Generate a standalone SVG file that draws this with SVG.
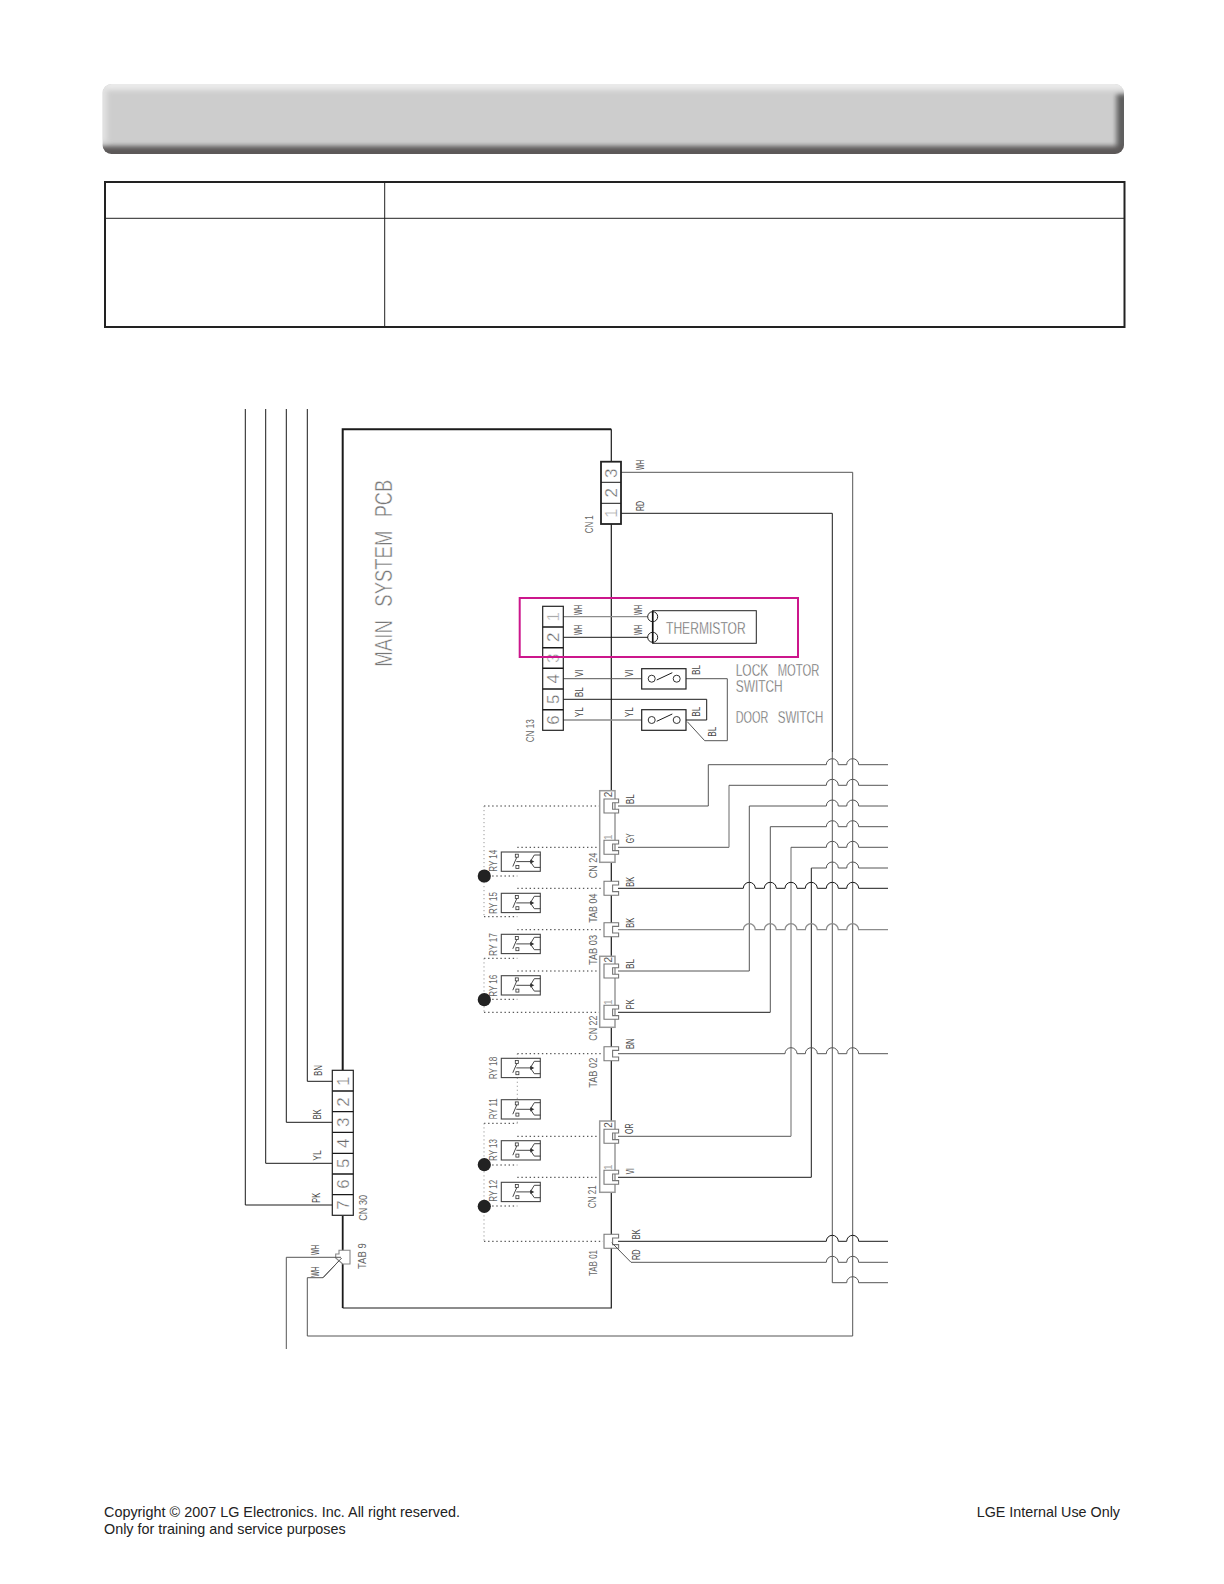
<svg xmlns="http://www.w3.org/2000/svg" xmlns:xlink="http://www.w3.org/1999/xlink" width="1224" height="1584" viewBox="0 0 1224 1584">
<style>
text{font-family:"Liberation Sans",Arial,sans-serif}
.k{fill:none;stroke:#1a1a1a;stroke-width:1}
.g{fill:none;stroke:#8c8c8c;stroke-width:1.3}
.d{fill:none;stroke:#555;stroke-width:1}
.dot{fill:none;stroke:#333;stroke-width:1;stroke-dasharray:1.4 2.7}
.dotl{fill:none;stroke:#999;stroke-width:1;stroke-dasharray:1.2 2.8}
.box{fill:#fff;stroke:#222;stroke-width:1.2}
.boxg{fill:#fff;stroke:#999;stroke-width:1.5}
.l{font-size:11px;fill:#444}
.n{font-size:17px;fill:#666;text-anchor:middle;stroke:#fff;stroke-width:.35}
.s{font-size:10px;text-anchor:middle}
.c{font-size:11px;fill:#666}
.t{font-size:17px;fill:#666;stroke:#fff;stroke-width:.35}
.f{font-size:15px;fill:#222}
</style>
<defs>
<filter id="soft" x="-5%" y="-20%" width="110%" height="140%"><feGaussianBlur stdDeviation="2.4"/></filter>
<clipPath id="bc"><rect x="102.5" y="84" width="1021.5" height="70" rx="9"/></clipPath>
<path id="tab" d="M-7.3-7H7.3V-3.3H1.3V3.3H7.3V7H-7.3Z" fill="#fff" stroke="#777" stroke-width="1.1"/>
<g id="relay">
<rect x="0" y="0" width="39" height="19.3" fill="#fff" stroke="#444" stroke-width="1.1"/>
<rect x="14" y="2.2" width="3" height="3" fill="none" stroke="#333" stroke-width=".8"/>
<rect x="14.6" y="13.4" width="3" height="3" fill="none" stroke="#333" stroke-width=".8"/>
<path d="M15.5 5.2L11.5 14.5M15 9.6H31M39 3H33L29 9.6L33 15.4H39" fill="none" stroke="#333" stroke-width=".9"/>
<path d="M29 7.5L33 9.6L29 11.7Z" fill="#333"/>
</g>
</defs>

<g id="header-bar" clip-path="url(#bc)">
<rect x="102.5" y="84" width="1021.5" height="70" fill="#cdcdcd"/>
<g filter="url(#soft)">
<rect x="80" y="64" width="1070" height="26" fill="#eaeaea"/>
<rect x="80" y="64" width="27" height="78" fill="#e2e2e2"/>
<rect x="1116.5" y="94" width="30" height="80" fill="#5f5f5f"/>
<rect x="80" y="146" width="1070" height="30" fill="#5b5959"/>
</g>
</g>

<g id="table" fill="none" stroke="#222">
<rect x="105" y="182" width="1019.5" height="145" stroke-width="2"/>
<path d="M105 218.3H1124.5M384.7 182V327" stroke-width="1"/>
</g>

<g id="connectors">
<path class="k" d="M245.3 409V1205H332.3M265.7 409V1163.3H332.3M286.3 409V1122.3H332.3M307.3 409V1081.3H332.3"/>
<path d="M342.7 1070V429.3H611.3" fill="none" stroke="#1a1a1a" stroke-width="2"/>
<path d="M342.7 1216V1308" fill="none" stroke="#1a1a1a" stroke-width="1.8"/>
<path d="M611.3 429.3V1308H342.7" fill="none" stroke="#1a1a1a" stroke-width="1.2"/>
<path class="d" d="M621 472.3H852.7V1336H307.3V1277.7H323L341.7 1258"/>
<path class="k" d="M621 513.3H832.3V752"/>
<path class="d" d="M832.3 752V1282.7H846.7a6 6 0 0 1 12 0H888"/>
<path class="d" d="M286.3 1349V1257.3H341"/>
<path class="g" d="M563 616.7H648"/>
<path class="k" d="M563 637.3H648"/>
<path class="d" d="M563 678.7H641.7"/>
<path class="k" d="M563 699.3H706.7V720H686"/>
<path class="g" d="M563 720H641.7"/>
<path class="d" d="M686 678.7H727.3V740.7H704.7L687.3 721.7"/>

<path class="g" d="M618 806H708.3"/><path class="d" d="M708.3 806V764.7H826.3a6 6 0 0 1 12 0H846.7a6 6 0 0 1 12 0H888"/>
<path class="d" d="M618 847.3H729"/><path class="g" d="M729 847.3V785.3"/><path class="d" d="M729 785.3H826.3a6 6 0 0 1 12 0H846.7a6 6 0 0 1 12 0H888"/>
<path class="d" d="M618 971H749.3V806H826.3a6 6 0 0 1 12 0H846.7a6 6 0 0 1 12 0H888"/>
<path class="k" d="M618 1012.3H770.3"/><path class="d" d="M770.3 1012.3V826.7H826.3a6 6 0 0 1 12 0H846.7a6 6 0 0 1 12 0H888"/>
<path class="d" d="M618 1136.3H791"/><path class="g" d="M791 1136.3V847.3"/><path class="d" d="M791 847.3H826.3a6 6 0 0 1 12 0H846.7a6 6 0 0 1 12 0H888"/>
<path class="k" d="M618 1177.3H811.3V868"/><path class="d" d="M811.3 868H826.3a6 6 0 0 1 12 0H846.7a6 6 0 0 1 12 0H888"/>

<path class="k" d="M618 888.3H743.3a6 6 0 0 1 12 0H764.3a6 6 0 0 1 12 0H785a6 6 0 0 1 12 0H805.3a6 6 0 0 1 12 0H826.3a6 6 0 0 1 12 0H846.7a6 6 0 0 1 12 0H888"/>
<path class="g" d="M618 929.7H743.3a6 6 0 0 1 12 0H764.3a6 6 0 0 1 12 0H785a6 6 0 0 1 12 0H805.3a6 6 0 0 1 12 0H826.3a6 6 0 0 1 12 0H846.7a6 6 0 0 1 12 0H888"/>
<path class="d" d="M618 1053.7H785a6 6 0 0 1 12 0H805.3a6 6 0 0 1 12 0H826.3a6 6 0 0 1 12 0H846.7a6 6 0 0 1 12 0H888"/>
<path class="k" d="M618 1241.3H826.3a6 6 0 0 1 12 0H846.7a6 6 0 0 1 12 0H888"/>
<path class="d" d="M611.7 1242.7L631 1262.3H826.3a6 6 0 0 1 12 0H846.7a6 6 0 0 1 12 0H888"/>

<path class="dot" d="M484 806H601"/>
<path class="dotl" d="M484 806V916.7"/>
<path class="dot" d="M484 916.7H517.3"/>
<path class="dot" d="M517.3 847.3H601"/>
<path class="dot" d="M484 876H517.3"/>
<path class="dot" d="M517.3 888.3H601"/>
<path class="dot" d="M517.3 929.7H601"/>
<path class="dot" d="M484 958.3H517.3"/>
<path class="dotl" d="M484 958.3V1012.3"/>
<path class="dot" d="M484 1012.3H601"/>
<path class="dot" d="M517.3 971H601"/>
<path class="dot" d="M484 999.3H517.3"/>
<path class="dot" d="M517.3 1053.7H601"/>
<path class="dotl" d="M517.3 1053.7V1123.3"/>
<path class="dot" d="M484 1123.3H517.3"/>
<path class="dotl" d="M484 1123.3V1241.3"/>
<path class="dot" d="M484 1241.3H603"/>
<path class="dot" d="M517.3 1136.3H600"/>
<path class="dot" d="M484 1165H517.3"/>
<path class="dot" d="M517.3 1177.3H600"/>
<path class="dot" d="M484 1206H517.3"/>
</g>

<g id="cn1">
<rect class="box" x="601" y="461.7" width="20" height="62.3" style="stroke-width:1.8"/>
<path class="k" d="M601 482.3H621M601 503.3H621"/>
<text class="n" transform="translate(617.3,473.3) rotate(-90)">3</text>
<text class="n" transform="translate(617.3,492.7) rotate(-90)">2</text>
<text class="n" style="fill:#999" transform="translate(617.3,513.3) rotate(-90)">1</text>
<text class="c" transform="translate(593.3,533.3) rotate(-90)" textLength="18" lengthAdjust="spacingAndGlyphs">CN 1</text>
</g>
<text class="l" transform="translate(644.3,470) rotate(-90)" textLength="10" lengthAdjust="spacingAndGlyphs">WH</text>
<text class="l" transform="translate(644.3,511) rotate(-90)" textLength="10" lengthAdjust="spacingAndGlyphs">RD</text>

<g id="main-pcb-label">
<text transform="translate(392.3,666.7) rotate(-90)" style="font-size:24px;fill:#777;stroke:#fff;stroke-width:.45"><tspan x="0" textLength="46.7" lengthAdjust="spacingAndGlyphs">MAIN</tspan> <tspan x="60" textLength="76" lengthAdjust="spacingAndGlyphs">SYSTEM</tspan> <tspan x="149.4" textLength="37.3" lengthAdjust="spacingAndGlyphs">PCB</tspan></text>
</g>

<g id="cn13">
<rect class="box" x="542.7" y="606.3" width="20.6" height="124"/>
<path class="k" d="M542.7 627H563.3M542.7 647.7H563.3M542.7 668.3H563.3M542.7 689H563.3M542.7 709.7H563.3" style="stroke-width:1.4"/>
<text class="n" style="fill:#aaa" transform="translate(559.3,616.7) rotate(-90)">1</text>
<text class="n" transform="translate(559.3,637.3) rotate(-90)">2</text>
<text class="n" style="fill:#999" transform="translate(559.3,658.3) rotate(-90)">3</text>
<text class="n" transform="translate(559.3,678.7) rotate(-90)">4</text>
<text class="n" transform="translate(559.3,699.3) rotate(-90)">5</text>
<text class="n" transform="translate(559.3,720) rotate(-90)">6</text>
<text class="c" transform="translate(534.3,742.3) rotate(-90)" textLength="23" lengthAdjust="spacingAndGlyphs">CN 13</text>
</g>
<g id="cn13-wire-labels">
<text class="l" transform="translate(582,615) rotate(-90)" textLength="10" lengthAdjust="spacingAndGlyphs">WH</text>
<text class="l" transform="translate(582,635) rotate(-90)" textLength="10" lengthAdjust="spacingAndGlyphs">WH</text>
<text class="l" transform="translate(642.3,615) rotate(-90)" textLength="10" lengthAdjust="spacingAndGlyphs">WH</text>
<text class="l" transform="translate(642.3,635) rotate(-90)" textLength="10" lengthAdjust="spacingAndGlyphs">WH</text>
<text class="l" transform="translate(582.7,676.7) rotate(-90)" textLength="7" lengthAdjust="spacingAndGlyphs">VI</text>
<text class="l" transform="translate(632.7,676.7) rotate(-90)" textLength="7" lengthAdjust="spacingAndGlyphs">VI</text>
<text class="l" transform="translate(582.7,697.3) rotate(-90)" textLength="10" lengthAdjust="spacingAndGlyphs">BL</text>
<text class="l" transform="translate(582.7,717.3) rotate(-90)" textLength="10" lengthAdjust="spacingAndGlyphs">YL</text>
<text class="l" transform="translate(632.7,717.3) rotate(-90)" textLength="10" lengthAdjust="spacingAndGlyphs">YL</text>
<text class="l" transform="translate(700,675) rotate(-90)" textLength="10" lengthAdjust="spacingAndGlyphs">BL</text>
<text class="l" transform="translate(700,716.7) rotate(-90)" textLength="10" lengthAdjust="spacingAndGlyphs">BL</text>
<text class="l" transform="translate(716,736.7) rotate(-90)" textLength="10" lengthAdjust="spacingAndGlyphs">BL</text>
</g>

<g id="thermistor">
<rect x="652.7" y="610.7" width="103.6" height="32.6" fill="#fff" stroke="#222" stroke-width="1"/>
<path d="M652.7 610.7V643.3" stroke="#111" stroke-width="1.6"/>
<circle cx="652.7" cy="616.7" r="5" fill="none" stroke="#222"/>
<circle cx="652.7" cy="637.3" r="5" fill="none" stroke="#222"/>
<text class="t" x="666" y="634" textLength="79.7" lengthAdjust="spacingAndGlyphs">THERMISTOR</text>
</g>

<g id="lock-motor-switch">
<rect class="box" x="641.7" y="668.7" width="44.3" height="20.3"/>
<circle cx="651.7" cy="678.7" r="3.5" fill="none" stroke="#333"/>
<circle cx="676.7" cy="678.7" r="3.5" fill="none" stroke="#333"/>
<path class="k" d="M656.7 680L672.3 672.7"/>
<text class="t" y="676"><tspan x="735.7" textLength="32.6" lengthAdjust="spacingAndGlyphs">LOCK</tspan> <tspan x="777.7" textLength="41.6" lengthAdjust="spacingAndGlyphs">MOTOR</tspan></text>
<text class="t" x="735.7" y="692.3" textLength="47" lengthAdjust="spacingAndGlyphs">SWITCH</text>
</g>
<g id="door-switch">
<rect class="box" x="641.7" y="709.7" width="44.3" height="20.6"/>
<circle cx="651.7" cy="720" r="3.5" fill="none" stroke="#333"/>
<circle cx="676.7" cy="720" r="3.5" fill="none" stroke="#333"/>
<path class="k" d="M656.7 721.3L672.3 714"/>
<text class="t" y="722.7"><tspan x="735.7" textLength="32.6" lengthAdjust="spacingAndGlyphs">DOOR</tspan> <tspan x="777.7" textLength="45.6" lengthAdjust="spacingAndGlyphs">SWITCH</tspan></text>
</g>

<rect id="highlight" x="519.7" y="598" width="278.3" height="59" fill="none" stroke="#cc168c" stroke-width="2"/>

<g id="cn24">
<rect class="boxg" x="599.7" y="790.7" width="15.3" height="71.6"/>
<use xlink:href="#tab" href="#tab" x="611.3" y="806"/><use xlink:href="#tab" href="#tab" x="611.3" y="847.3"/>
<text class="s" style="fill:#555" transform="translate(611.5,794.5) rotate(-90)">2</text>
<text class="s" style="fill:#aaa" transform="translate(611.5,837.3) rotate(-90)">1</text>
<text class="c" transform="translate(597,878.3) rotate(-90)" textLength="25.7" lengthAdjust="spacingAndGlyphs">CN 24</text>
</g>
<g id="tab04"><use xlink:href="#tab" href="#tab" x="611.3" y="888.3"/>
<text class="c" transform="translate(597,922.7) rotate(-90)" textLength="29.3" lengthAdjust="spacingAndGlyphs">TAB 04</text></g>
<g id="tab03"><use xlink:href="#tab" href="#tab" x="611.3" y="929.7"/>
<text class="c" transform="translate(597,965) rotate(-90)" textLength="30" lengthAdjust="spacingAndGlyphs">TAB 03</text></g>
<g id="cn22">
<rect class="boxg" x="599.7" y="956.3" width="15.3" height="71"/>
<use xlink:href="#tab" href="#tab" x="611.3" y="971"/><use xlink:href="#tab" href="#tab" x="611.3" y="1012.3"/>
<text class="s" style="fill:#555" transform="translate(611.5,959.6) rotate(-90)">2</text>
<text class="s" style="fill:#aaa" transform="translate(611.5,1002.3) rotate(-90)">1</text>
<text class="c" transform="translate(597,1040.7) rotate(-90)" textLength="25" lengthAdjust="spacingAndGlyphs">CN 22</text>
</g>
<g id="tab02"><use xlink:href="#tab" href="#tab" x="611.3" y="1053.7"/>
<text class="c" transform="translate(596.7,1087.7) rotate(-90)" textLength="30" lengthAdjust="spacingAndGlyphs">TAB 02</text></g>
<g id="cn21">
<rect class="boxg" x="599.7" y="1121" width="15.3" height="71.3"/>
<use xlink:href="#tab" href="#tab" x="611.3" y="1136.3"/><use xlink:href="#tab" href="#tab" x="611.3" y="1177.3"/>
<text class="s" style="fill:#555" transform="translate(611.5,1125) rotate(-90)">2</text>
<text class="s" style="fill:#aaa" transform="translate(611.5,1167.3) rotate(-90)">1</text>
<text class="c" transform="translate(596,1208.3) rotate(-90)" textLength="23" lengthAdjust="spacingAndGlyphs">CN 21</text>
</g>
<g id="tab01"><use xlink:href="#tab" href="#tab" x="611.3" y="1241.3"/>
<text class="c" transform="translate(596.7,1276) rotate(-90)" textLength="26" lengthAdjust="spacingAndGlyphs">TAB 01</text></g>
<path class="d" d="M611.7 1242.7L620 1251"/>

<g id="right-wire-labels">
<text class="l" transform="translate(634.3,804.3) rotate(-90)" textLength="10" lengthAdjust="spacingAndGlyphs">BL</text>
<text class="l" transform="translate(634.3,843.3) rotate(-90)" textLength="10" lengthAdjust="spacingAndGlyphs">GY</text>
<text class="l" transform="translate(633.7,886.7) rotate(-90)" textLength="10" lengthAdjust="spacingAndGlyphs">BK</text>
<text class="l" transform="translate(633.7,927.7) rotate(-90)" textLength="10" lengthAdjust="spacingAndGlyphs">BK</text>
<text class="l" transform="translate(633.7,969) rotate(-90)" textLength="10" lengthAdjust="spacingAndGlyphs">BL</text>
<text class="l" transform="translate(633.7,1009.3) rotate(-90)" textLength="10" lengthAdjust="spacingAndGlyphs">PK</text>
<text class="l" transform="translate(633.7,1049) rotate(-90)" textLength="10.5" lengthAdjust="spacingAndGlyphs">BN</text>
<text class="l" transform="translate(632.7,1134) rotate(-90)" textLength="10.5" lengthAdjust="spacingAndGlyphs">OR</text>
<text class="l" transform="translate(633.7,1174.3) rotate(-90)" textLength="6" lengthAdjust="spacingAndGlyphs">VI</text>
<text class="l" transform="translate(640.3,1239.3) rotate(-90)" textLength="10" lengthAdjust="spacingAndGlyphs">BK</text>
<text class="l" transform="translate(640.3,1260) rotate(-90)" textLength="10.5" lengthAdjust="spacingAndGlyphs">RD</text>
</g>

<g id="ry14"><use xlink:href="#relay" href="#relay" x="501.3" y="852"/><text class="c" transform="translate(497.3,871.7) rotate(-90)" textLength="22" lengthAdjust="spacingAndGlyphs">RY 14</text></g>
<g id="ry15"><use xlink:href="#relay" href="#relay" x="501.3" y="893.3"/><text class="c" transform="translate(497.3,914) rotate(-90)" textLength="22" lengthAdjust="spacingAndGlyphs">RY 15</text></g>
<g id="ry17"><use xlink:href="#relay" href="#relay" x="501.3" y="934.3"/><text class="c" transform="translate(497.3,956) rotate(-90)" textLength="23" lengthAdjust="spacingAndGlyphs">RY 17</text></g>
<g id="ry16"><use xlink:href="#relay" href="#relay" x="501.3" y="975.7"/><text class="c" transform="translate(497.3,996.7) rotate(-90)" textLength="22" lengthAdjust="spacingAndGlyphs">RY 16</text></g>
<g id="ry18"><use xlink:href="#relay" href="#relay" x="501.3" y="1058.3"/><text class="c" transform="translate(497.3,1079.3) rotate(-90)" textLength="22.5" lengthAdjust="spacingAndGlyphs">RY 18</text></g>
<g id="ry11"><use xlink:href="#relay" href="#relay" x="501.3" y="1099.7"/><text class="c" transform="translate(497.3,1119.3) rotate(-90)" textLength="21" lengthAdjust="spacingAndGlyphs">RY 11</text></g>
<g id="ry13"><use xlink:href="#relay" href="#relay" x="501.3" y="1140.7"/><text class="c" transform="translate(497.3,1161) rotate(-90)" textLength="22" lengthAdjust="spacingAndGlyphs">RY 13</text></g>
<g id="ry12"><use xlink:href="#relay" href="#relay" x="501.3" y="1182.3"/><text class="c" transform="translate(497.3,1201.7) rotate(-90)" textLength="22" lengthAdjust="spacingAndGlyphs">RY 12</text></g>

<g id="dots" fill="#222">
<circle cx="484.3" cy="876" r="6.6"/>
<circle cx="484.3" cy="999.7" r="6.6"/>
<circle cx="484.3" cy="1164.7" r="6.6"/>
<circle cx="484.3" cy="1206.3" r="6.6"/>
</g>

<g id="cn30">
<rect class="box" x="332.3" y="1070.3" width="21" height="145"/>
<path class="k" d="M332.3 1091H353.3M332.3 1111.7H353.3M332.3 1132.3H353.3M332.3 1153.3H353.3M332.3 1174H353.3M332.3 1194.7H353.3" style="stroke-width:1.3"/>
<text class="n" transform="translate(349.3,1081.3) rotate(-90)">1</text>
<text class="n" transform="translate(349.3,1102) rotate(-90)">2</text>
<text class="n" transform="translate(349.3,1122.3) rotate(-90)">3</text>
<text class="n" transform="translate(349.3,1143.3) rotate(-90)">4</text>
<text class="n" transform="translate(349.3,1163.3) rotate(-90)">5</text>
<text class="n" transform="translate(349.3,1184) rotate(-90)">6</text>
<text class="n" transform="translate(349.3,1205) rotate(-90)">7</text>
<text class="c" transform="translate(367.3,1220.7) rotate(-90)" textLength="25.7" lengthAdjust="spacingAndGlyphs">CN 30</text>
<text class="l" transform="translate(321.7,1076) rotate(-90)" textLength="11" lengthAdjust="spacingAndGlyphs">BN</text>
<text class="l" transform="translate(320.7,1119.3) rotate(-90)" textLength="10" lengthAdjust="spacingAndGlyphs">BK</text>
<text class="l" transform="translate(321,1160.7) rotate(-90)" textLength="10.5" lengthAdjust="spacingAndGlyphs">YL</text>
<text class="l" transform="translate(320,1202.7) rotate(-90)" textLength="10" lengthAdjust="spacingAndGlyphs">PK</text>
</g>

<g id="tab9">
<path d="M350 1250.3V1264H342.7L335.7 1258V1254H339V1250.3Z" fill="#fff" stroke="#888" stroke-width="1.1"/>
<path class="d" d="M341 1257.3H335M323 1277.7L341.7 1258"/>
<text class="c" transform="translate(365.7,1269) rotate(-90)" textLength="25.7" lengthAdjust="spacingAndGlyphs">TAB 9</text>
<text class="l" transform="translate(318.7,1255) rotate(-90)" textLength="10" lengthAdjust="spacingAndGlyphs">WH</text>
<text class="l" transform="translate(318.7,1276.7) rotate(-90)" textLength="10" lengthAdjust="spacingAndGlyphs">WH</text>
</g>

<g id="footer">
<text class="f" x="104" y="1516.7" textLength="356" lengthAdjust="spacingAndGlyphs">Copyright © 2007 LG Electronics. Inc. All right reserved.</text>
<text class="f" x="104" y="1534.3" textLength="241.7" lengthAdjust="spacingAndGlyphs">Only for training and service purposes</text>
<text class="f" x="976.7" y="1516.7" textLength="143.3" lengthAdjust="spacingAndGlyphs">LGE Internal Use Only</text>
</g>
</svg>
